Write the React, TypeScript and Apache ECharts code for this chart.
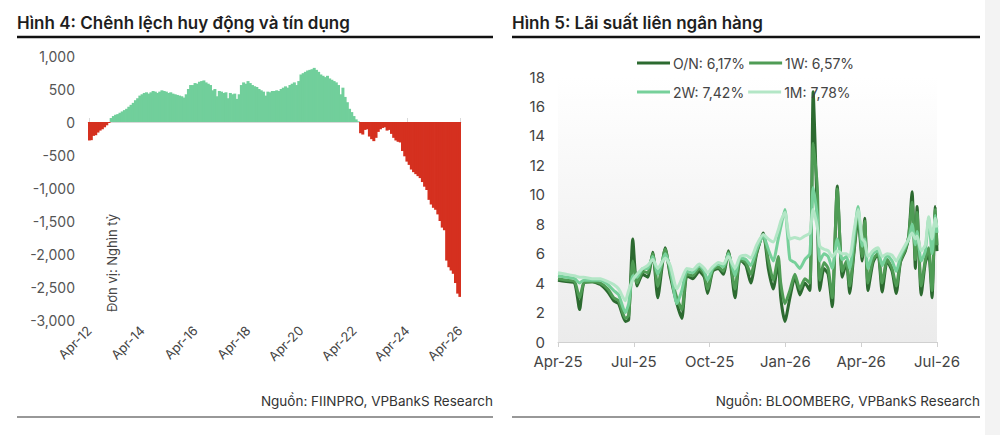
import React, { useEffect, useRef } from "react";
import * as echarts from "echarts";

// ---------- Left chart: Chênh lệch huy động và tín dụng (monthly, Apr-12 .. Apr-26) ----------
const GAP_START_YEAR = 12;
const GAP_START_MONTH = 3; // April
const MONTHS = ["Jan", "Feb", "Mar", "Apr", "May", "Jun", "Jul", "Aug", "Sep", "Oct", "Nov", "Dec"];
const gapValues = [
  -280, -275, -210, -200, -160, -130, -110, -80, -50, -15,
  60, 90, 110, 120, 140,
  160, 180, 200, 230, 260,
  290, 330, 360,
  400, 420, 440, 450, 430,
  450, 470, 460, 440, 460,
  480, 470, 460, 440, 450,
  430, 420, 410, 400, 390,
  370, 420, 500,
  560, 560, 590, 580, 610,
  620, 630, 600, 580, 560,
  480, 500, 390, 470, 460,
  440, 450, 360, 440, 420,
  430, 350, 420,
  560, 600, 580, 620,
  590, 560, 540, 530,
  500, 480, 460, 400, 460,
  450, 470, 470, 480, 470,
  500, 520, 540, 520, 560,
  580, 600, 560, 620,
  720, 740, 760, 780, 790,
  800, 820, 790, 760,
  720, 700, 680, 700,
  660, 640, 620, 600,
  560, 420, 520,
  380, 300, 200,
  150, 90, 40, 10,
  -170, -190, -120, -110,
  -220, -260, -290, -240,
  -150, -110, -90, -80,
  -130, -120, -180,
  -240, -280, -300, -310,
  -440, -520, -600,
  -650, -720, -760,
  -790, -820, -850,
  -910, -980, -1030,
  -1180, -1250, -1300,
  -1330, -1400, -1500,
  -1600, -1640, -2100,
  -2200, -2250, -2300,
  -2440, -2600, -2650,
];
const GAP_LABEL_EVERY = 24;
const GAP_POS_COLOR = "#71cf9b";
const GAP_NEG_COLOR = "#d5301f";

// ---------- Right chart: Lãi suất liên ngân hàng ----------
const rateDates = [
  "2025-04-01", "2025-04-11", "2025-04-21", "2025-04-27", "2025-05-02", "2025-05-12", "2025-05-22", "2025-05-31",
  "2025-06-07", "2025-06-13", "2025-06-21", "2025-06-25", "2025-06-30", "2025-07-05", "2025-07-12", "2025-07-18",
  "2025-07-24", "2025-07-30", "2025-08-08", "2025-08-14", "2025-08-22", "2025-08-28", "2025-09-03", "2025-09-10",
  "2025-09-18", "2025-09-24", "2025-09-28", "2025-10-04", "2025-10-11", "2025-10-17", "2025-10-23", "2025-10-31",
  "2025-11-06", "2025-11-13", "2025-11-19", "2025-11-26", "2025-12-04", "2025-12-10", "2025-12-16", "2025-12-22",
  "2025-12-25", "2025-12-30", "2026-01-05", "2026-01-11", "2026-01-17", "2026-01-23", "2026-01-29", "2026-02-02",
  "2026-02-07", "2026-02-10", "2026-02-15", "2026-02-20", "2026-02-25", "2026-03-03", "2026-03-09", "2026-03-14",
  "2026-03-18", "2026-03-23", "2026-03-28", "2026-04-02", "2026-04-05", "2026-04-09", "2026-04-15", "2026-04-21",
  "2026-04-26", "2026-05-02", "2026-05-08", "2026-05-13", "2026-05-18", "2026-05-24", "2026-05-28", "2026-06-01",
  "2026-06-05", "2026-06-07", "2026-06-12", "2026-06-17", "2026-06-21", "2026-06-25", "2026-06-29", "2026-07-01",
];
const onValues = [
  4.2, 4.1, 4.0, 2.2, 4.0, 4.1, 3.9, 3.4,
  2.8, 2.6, 1.4, 1.5, 7.0, 3.8, 4.6, 4.4,
  6.1, 3.0, 6.4, 4.5, 2.6, 1.6, 4.5, 4.3,
  4.8, 4.4, 3.3, 4.8, 5.0, 4.6, 6.2, 3.0,
  5.6, 5.2, 4.0, 6.0, 7.4, 5.0, 3.6, 5.4,
  3.0, 1.4, 3.0, 4.4, 3.2, 4.0, 3.5, 17.0,
  8.5, 3.5, 5.0, 4.6, 2.4, 10.6, 4.4, 5.4,
  3.3, 6.0, 8.4, 5.5, 8.4, 3.5, 5.4, 6.0,
  3.4, 5.5, 4.8, 3.3, 5.4, 6.2, 7.2, 10.2,
  5.0, 9.2, 3.2, 5.4, 6.0, 3.0, 9.2, 6.17,
];
const w1Values = [
  4.3, 4.2, 4.1, 3.0, 4.0, 4.1, 4.0, 3.6,
  3.0, 2.8, 1.6, 1.8, 5.5, 4.0, 4.8, 4.7,
  6.0, 3.8, 6.3, 4.7, 3.0, 2.2, 4.6, 4.5,
  5.0, 4.6, 3.6, 4.9, 5.1, 4.8, 6.1, 3.6,
  5.6, 5.4, 4.6, 6.1, 7.3, 5.6, 4.2, 5.8,
  4.0, 2.6, 3.5, 4.6, 3.6, 4.3, 4.0, 13.5,
  10.5, 4.2, 5.4, 5.0, 3.0, 10.4, 4.8, 5.5,
  3.8, 6.2, 8.8, 5.8, 8.2, 4.0, 5.6, 6.0,
  4.0, 5.6, 5.0, 3.8, 5.5, 6.3, 7.2, 9.5,
  5.6, 8.8, 3.8, 5.6, 6.4, 3.5, 9.0, 6.57,
];
const w2Values = [
  4.5, 4.4, 4.3, 4.0, 4.2, 4.2, 4.2, 3.9,
  3.5, 3.2, 2.0, 2.6, 4.5, 4.4, 5.0, 5.0,
  5.8, 4.6, 6.0, 5.0, 2.6, 3.5, 4.8, 4.7,
  5.2, 4.8, 4.2, 5.0, 5.3, 5.1, 6.0, 4.5,
  5.7, 5.6, 5.2, 6.3, 7.2, 6.3, 5.5, 7.0,
  7.8, 9.0, 5.6, 5.4, 5.0, 5.6, 6.0, 10.5,
  8.5, 5.5, 6.0, 5.8, 5.0, 7.0, 5.6, 5.8,
  5.0, 7.0, 9.2, 6.5, 7.0, 5.0, 6.0, 6.2,
  5.2, 5.9, 5.5, 4.8, 5.8, 6.5, 7.0, 8.0,
  6.6, 7.5, 5.5, 6.2, 8.4, 6.0, 8.6, 7.42,
];
const m1Values = [
  4.7, 4.6, 4.5, 4.4, 4.4, 4.3, 4.3, 4.1,
  3.9, 3.6, 2.8, 3.5, 4.2, 4.6, 5.0, 5.2,
  5.6, 5.0, 5.7, 5.2, 3.6, 4.3, 5.0, 4.9,
  5.3, 5.0, 4.7, 5.1, 5.4, 5.3, 5.8, 5.0,
  5.8, 5.9, 5.7, 6.6, 7.3, 7.0, 6.8, 7.6,
  8.2, 8.8, 7.0, 7.1, 7.0, 7.2, 7.4, 9.0,
  7.8, 6.5, 6.3, 6.2, 5.8, 6.2, 6.0, 6.0,
  5.8, 7.5, 9.0, 7.0, 6.8, 5.8, 6.2, 6.4,
  5.8, 6.0, 5.9, 5.5, 6.0, 6.6, 7.0, 7.4,
  7.0, 7.2, 6.2, 6.6, 8.5, 7.0, 8.4, 7.78,
];
const rateNames = ["O/N: 6,17%", "1W: 6,57%", "2W: 7,42%", "1M: 7,78%"];
const rateColors = ["#2c6a30", "#4f9c55", "#76d09a", "#b3e6c6"];
const rateTickLabels = ["Apr-25", "Jul-25", "Oct-25", "Jan-26", "Apr-26", "Jul-26"];
const RATE_START = "2025-04-01";
const RATE_END = "2026-07-01";

const FONT = "Inter, 'Noto Sans', sans-serif";

function dayOffset(d: string): number {
  return Math.round((Date.parse(d) - Date.parse(RATE_START)) / 86400000);
}

export default function App() {
  const ref = useRef<HTMLDivElement>(null);

  useEffect(() => {
    if (!ref.current) return;
    const chart = echarts.init(ref.current, null, { renderer: "svg" });

    const gapCategories = gapValues.map((_, i) => {
      const t = GAP_START_MONTH + i;
      const yy = GAP_START_YEAR + Math.floor(t / 12);
      return MONTHS[t % 12] + "-" + String(yy).padStart(2, "0");
    });

    const rateMax = dayOffset(RATE_END);
    const rateInterval = rateMax / (rateTickLabels.length - 1);
    const rateSeriesValues = [onValues, w1Values, w2Values, m1Values];

    const option: any = {
      animation: false,
      textStyle: { fontFamily: FONT },
      grid: [
        { left: 88, right: 539, top: 56, bottom: 115 },
        {
          left: 558,
          right: 63,
          top: 77,
          bottom: 93,
          show: true,
          borderWidth: 0,
          backgroundColor: new echarts.graphic.LinearGradient(0, 0, 0, 1, [
            { offset: 0, color: "#ffffff" },
            { offset: 1, color: "#ebebeb" },
          ]),
        },
      ],
      xAxis: [
        {
          type: "category",
          gridIndex: 0,
          data: gapCategories,
          position: "bottom",
          axisLine: { show: false, onZero: false },
          axisTick: { show: false },
          axisLabel: {
            interval: (i: number) => i % GAP_LABEL_EVERY === 0,
            rotate: 45,
            fontSize: 13,
            color: "#444",
            margin: 8,
            fontFamily: FONT,
          },
        },
        {
          type: "category",
          gridIndex: 0,
          data: gapCategories,
          axisLine: { show: true, onZero: true, lineStyle: { color: "#d9d9d9", width: 1 } },
          axisTick: {
            show: true,
            alignWithLabel: true,
            interval: (i: number) => i % GAP_LABEL_EVERY === 0,
            length: 4,
            lineStyle: { color: "#d9d9d9" },
          },
          axisLabel: { show: false },
        },
        {
          type: "value",
          gridIndex: 1,
          min: 0,
          max: rateMax,
          interval: rateInterval,
          axisLine: { show: true, lineStyle: { color: "#d0d0d0" } },
          axisTick: { show: true, length: 5, lineStyle: { color: "#d0d0d0" } },
          splitLine: { show: false },
          axisLabel: {
            fontSize: 15,
            color: "#444",
            margin: 12,
            fontFamily: FONT,
            formatter: (v: number) => rateTickLabels[Math.round(v / rateInterval)] ?? "",
          },
        },
      ],
      yAxis: [
        {
          type: "value",
          gridIndex: 0,
          min: -3000,
          max: 1000,
          interval: 500,
          axisLine: { show: false },
          axisTick: { show: false },
          splitLine: { show: false },
          axisLabel: {
            fontSize: 14,
            color: "#555",
            margin: 13,
            fontFamily: FONT,
            formatter: (v: number) => v.toLocaleString("en-US"),
          },
        },
        {
          type: "value",
          gridIndex: 1,
          min: 0,
          max: 18,
          interval: 2,
          axisLine: { show: false },
          axisTick: { show: false },
          splitLine: { show: false },
          axisLabel: { fontSize: 15, color: "#444", margin: 13, fontFamily: FONT },
        },
      ],
      legend: [
        {
          data: [rateNames[0], rateNames[1]],
          left: 637,
          top: 56,
          padding: 0,
          icon: "rect",
          itemWidth: 33,
          itemHeight: 3,
          itemGap: 4,
          textStyle: { fontSize: 14, color: "#444", fontFamily: FONT, padding: [0, 0, 0, -2] },
        },
        {
          data: [rateNames[2], rateNames[3]],
          left: 637,
          top: 85,
          padding: 0,
          icon: "rect",
          itemWidth: 33,
          itemHeight: 3,
          itemGap: 4,
          textStyle: { fontSize: 14, color: "#444", fontFamily: FONT, padding: [0, 0, 0, -2] },
        },
      ],
      series: [
        {
          type: "bar",
          xAxisIndex: 0,
          yAxisIndex: 0,
          barWidth: 3,
          data: gapValues.map((v) => ({
            value: v,
            itemStyle: { color: v >= 0 ? GAP_POS_COLOR : GAP_NEG_COLOR },
          })),
        },
        ...rateNames.map((name, k) => ({
          type: "line",
          name,
          xAxisIndex: 2,
          yAxisIndex: 1,
          showSymbol: false,
          smooth: 0.2,
          color: rateColors[k],
          lineStyle: { width: 3, color: rateColors[k] },
          data: rateDates.map((d, i) => [dayOffset(d), rateSeriesValues[k][i]]),
          z: 2 + k,
        })),
      ],
      graphic: [
        { type: "rect", shape: { x: 985, y: 0, width: 15, height: 435 }, style: { fill: "#f3f3f3" }, z: -10 },
        {
          type: "text",
          x: 17,
          y: 23,
          style: {
            text: "Hình 4: Chênh lệch huy động và tín dụng",
            fontSize: 17,
            fontWeight: 600,
            fontFamily: FONT,
            fill: "#1e1e1e",
            align: "left",
            verticalAlign: "middle",
          },
        },
        {
          type: "text",
          x: 512,
          y: 23,
          style: {
            text: "Hình 5: Lãi suất liên ngân hàng",
            fontSize: 17,
            fontWeight: 600,
            fontFamily: FONT,
            fill: "#1e1e1e",
            align: "left",
            verticalAlign: "middle",
          },
        },
        { type: "line", shape: { x1: 17, y1: 37, x2: 493, y2: 37 }, style: { stroke: "#111", lineWidth: 2.5 } },
        { type: "line", shape: { x1: 512, y1: 37, x2: 980, y2: 37 }, style: { stroke: "#111", lineWidth: 2.5 } },
        { type: "line", shape: { x1: 17, y1: 417, x2: 493, y2: 417 }, style: { stroke: "#333", lineWidth: 1.2 } },
        { type: "line", shape: { x1: 512, y1: 417, x2: 980, y2: 417 }, style: { stroke: "#333", lineWidth: 1.2 } },
        {
          type: "text",
          x: 493,
          y: 401,
          style: {
            text: "Nguồn: FIINPRO, VPBankS Research",
            fontSize: 13.5,
            fontFamily: FONT,
            fill: "#333",
            align: "right",
            verticalAlign: "middle",
          },
        },
        {
          type: "text",
          x: 980,
          y: 401,
          style: {
            text: "Nguồn: BLOOMBERG, VPBankS Research",
            fontSize: 13.5,
            fontFamily: FONT,
            fill: "#333",
            align: "right",
            verticalAlign: "middle",
          },
        },
        {
          type: "text",
          x: 112,
          y: 263,
          rotation: Math.PI / 2,
          style: {
            text: "Đơn vị: Nghìn tỷ",
            fontSize: 13,
            fontFamily: FONT,
            fill: "#444",
            align: "center",
            verticalAlign: "middle",
          },
        },
      ],
    };

    chart.setOption(option);
    return () => chart.dispose();
  }, []);

  return (
    <div
      ref={ref}
      style={{ position: "fixed", left: 0, top: 0, width: 1000, height: 435, background: "#fff" }}
    />
  );
}
